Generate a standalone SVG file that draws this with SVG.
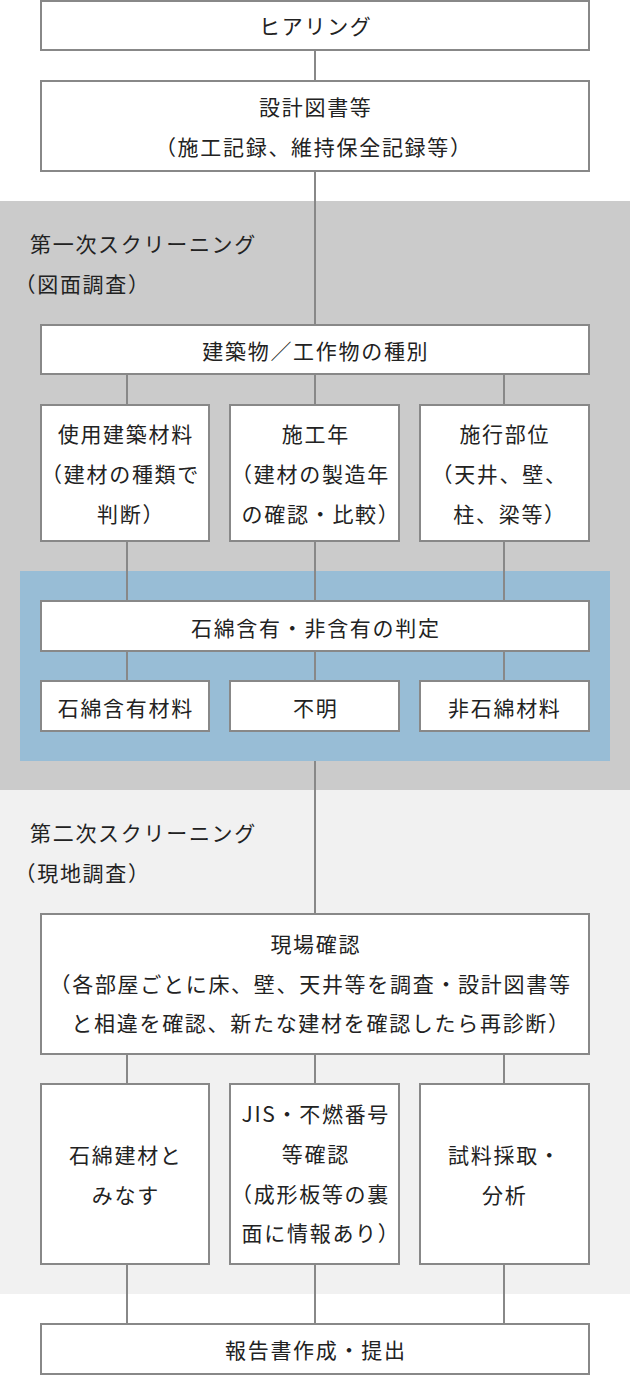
<svg xmlns="http://www.w3.org/2000/svg" width="630" height="1384" viewBox="0 0 630 1384">
<style>
.box{fill:#fff;stroke:#888;stroke-width:2}
.con line{stroke:#888;stroke-width:2}
text{font-family:"Noto Sans CJK JP","Noto Sans",sans-serif;font-size:21px;fill:#222;letter-spacing:1.7px;dominant-baseline:central}
.c{text-anchor:middle}
.p{font-feature-settings:"halt" 1}
</style>
<rect x="0" y="0" width="630" height="1384" fill="#fff"/>
<rect id="band1" x="0" y="201" width="630" height="589" fill="#cbcbcb"/>
<rect id="band2" x="0" y="790" width="630" height="504" fill="#f1f1f1"/>
<rect id="band-blue" x="20" y="571" width="590" height="190" fill="#98bdd6"/>
<g id="connectors" class="con">
<line x1="315" y1="51" x2="315" y2="80"/>
<line x1="315" y1="172" x2="315" y2="324"/>
<line x1="127" y1="375" x2="127" y2="404"/>
<line x1="315" y1="375" x2="315" y2="404"/>
<line x1="504" y1="375" x2="504" y2="404"/>
<line x1="127" y1="542" x2="127" y2="600"/>
<line x1="315" y1="542" x2="315" y2="600"/>
<line x1="504" y1="542" x2="504" y2="600"/>
<line x1="127" y1="652" x2="127" y2="680"/>
<line x1="315" y1="652" x2="315" y2="680"/>
<line x1="504" y1="652" x2="504" y2="680"/>
<line x1="315" y1="761" x2="315" y2="913"/>
<line x1="127" y1="1055" x2="127" y2="1083"/>
<line x1="315" y1="1055" x2="315" y2="1083"/>
<line x1="504" y1="1055" x2="504" y2="1083"/>
<line x1="127" y1="1265" x2="127" y2="1323"/>
<line x1="315" y1="1265" x2="315" y2="1323"/>
<line x1="504" y1="1265" x2="504" y2="1323"/>
</g>
<g id="title1">
<text x="30" y="243">第一次スクリーニング</text>
<text x="25" y="283"><tspan class="p">（</tspan>図面調査<tspan class="p">）</tspan></text>
</g>
<g id="title2">
<text x="30" y="832">第二次スクリーニング</text>
<text x="25" y="872"><tspan class="p">（</tspan>現地調査<tspan class="p">）</tspan></text>
</g>
<g id="n-hearing">
<rect class="box" x="41" y="1" width="548" height="49"/>
<text class="c" x="315.8" y="25">ヒアリング</text>
</g>
<g id="n-drawings">
<rect class="box" x="41" y="81" width="548" height="90"/>
<text class="c" x="315.8" y="106">設計図書等</text>
<text class="c" x="313.8" y="146"><tspan class="p">（</tspan>施工記録、維持保全記録等<tspan class="p">）</tspan></text>
</g>
<g id="n-type">
<rect class="box" x="41" y="325" width="548" height="49"/>
<text class="c" x="315.8" y="350">建築物／工作物の種別</text>
</g>
<g id="n-material">
<rect class="box" x="41" y="405" width="168" height="136"/>
<text class="c" x="125.8" y="433">使用建築材料</text>
<text class="c" x="125.8" y="473"><tspan class="p">（</tspan>建材の種類で</text>
<text class="c" x="125.8" y="513">判断<tspan class="p">）</tspan></text>
</g>
<g id="n-year">
<rect class="box" x="230" y="405" width="169" height="136"/>
<text class="c" x="315.8" y="433">施工年</text>
<text class="c" x="315.8" y="473"><tspan class="p">（</tspan>建材の製造年</text>
<text class="c" x="315.8" y="513">の確認・比較<tspan class="p">）</tspan></text>
</g>
<g id="n-part">
<rect class="box" x="420" y="405" width="169" height="136"/>
<text class="c" x="504.8" y="433">施行部位</text>
<text class="c" x="504.8" y="473"><tspan class="p">（</tspan>天井、壁、</text>
<text class="c" x="504.8" y="513">柱、梁等<tspan class="p">）</tspan></text>
</g>
<g id="n-judge">
<rect class="box" x="41" y="601" width="548" height="50"/>
<text class="c" x="315.8" y="627">石綿含有・非含有の判定</text>
</g>
<g id="n-contain">
<rect class="box" x="41" y="681" width="168" height="50"/>
<text class="c" x="125.8" y="707">石綿含有材料</text>
</g>
<g id="n-unknown">
<rect class="box" x="230" y="681" width="169" height="50"/>
<text class="c" x="315.8" y="707">不明</text>
</g>
<g id="n-non">
<rect class="box" x="420" y="681" width="169" height="50"/>
<text class="c" x="504.8" y="707">非石綿材料</text>
</g>
<g id="n-site">
<rect class="box" x="41" y="914" width="548" height="140"/>
<text class="c" x="315.8" y="943">現場確認</text>
<text class="c" x="315.8" y="983"><tspan class="p">（</tspan>各部屋ごとに床、壁、天井等を調査・設計図書等</text>
<text class="c" x="315.8" y="1022">と相違を確認、新たな建材を確認したら再診断<tspan class="p">）</tspan></text>
</g>
<g id="n-deem">
<rect class="box" x="41" y="1084" width="168" height="180"/>
<text class="c" x="125.8" y="1154">石綿建材と</text>
<text class="c" x="125.8" y="1194">みなす</text>
</g>
<g id="n-jis">
<rect class="box" x="230" y="1084" width="169" height="180"/>
<text class="c" x="315.8" y="1113">JIS・不燃番号</text>
<text class="c" x="315.8" y="1153">等確認</text>
<text class="c" x="315.8" y="1193"><tspan class="p">（</tspan>成形板等の裏</text>
<text class="c" x="315.8" y="1232">面に情報あり<tspan class="p">）</tspan></text>
</g>
<g id="n-sample">
<rect class="box" x="420" y="1084" width="169" height="180"/>
<text class="c" x="504.8" y="1154">試料採取・</text>
<text class="c" x="504.8" y="1194">分析</text>
</g>
<g id="n-report">
<rect class="box" x="41" y="1324" width="548" height="50"/>
<text class="c" x="315.8" y="1349">報告書作成・提出</text>
</g>
</svg>
